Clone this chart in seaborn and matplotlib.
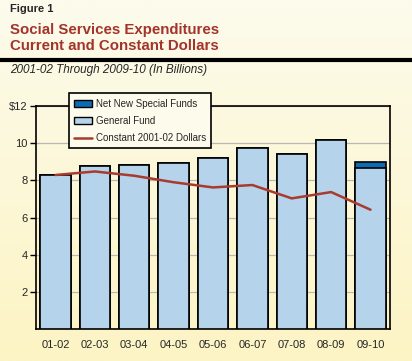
import matplotlib
matplotlib.use("Agg")
import matplotlib.pyplot as plt
from matplotlib.patches import Patch
from matplotlib.lines import Line2D
import numpy as np
import pandas as pd
import seaborn as sns

years = ["01-02", "02-03", "03-04", "04-05", "05-06", "06-07", "07-08", "08-09", "09-10"]
general_fund = [8.29, 8.77, 8.83, 8.93, 9.20, 9.76, 9.40, 10.20, 8.65]
special_funds = [0, 0, 0, 0, 0, 0, 0, 0, 0.34]
constant_dollars = [8.29, 8.48, 8.25, 7.90, 7.62, 7.75, 7.03, 7.37, 6.42]

df = pd.DataFrame({"year": years, "general": general_fund,
                   "total": np.array(general_fund) + np.array(special_funds),
                   "constant": constant_dollars})

sns.set_style("white")
plt.rcParams["font.family"] = ["Liberation Sans", "DejaVu Sans"]

fig = plt.figure(figsize=(4.12, 3.61), dpi=100)

# cream-to-yellow background
bg = fig.add_axes([0, 0, 1, 1], zorder=-10)
grad = np.linspace(0, 1, 256).reshape(-1, 1)
top_c = np.array([253, 251, 236]) / 255
bot_c = np.array([252, 244, 196]) / 255
img = top_c[None, None, :] * (1 - grad[:, :, None]) + bot_c[None, None, :] * grad[:, :, None]
bg.imshow(img, aspect="auto", extent=[0, 1, 0, 1])
bg.axis("off")

fig.text(0.024, 0.988, "Figure 1", fontsize=8, fontweight="bold", va="top")
fig.text(0.024, 0.937, "Social Services Expenditures\nCurrent and Constant Dollars",
         fontsize=10.8, fontweight="bold", color="#a3332b", va="top", linespacing=1.2)
fig.add_artist(Line2D([0, 1], [0.835, 0.835], color="black", lw=3, transform=fig.transFigure))
fig.text(0.024, 0.824, "2001-02 Through 2009-10 (In Billions)", fontsize=8.5, style="italic", va="top")

ax = fig.add_axes([0.087, 0.089, 0.860, 0.617])
ax.patch.set_alpha(0)

sns.barplot(data=df, x="year", y="total", color="#0a6db4", saturation=1, width=0.77,
            edgecolor="black", linewidth=1.2, ax=ax, zorder=3)
sns.barplot(data=df, x="year", y="general", color="#b5d3ea", saturation=1, width=0.77,
            edgecolor="black", linewidth=1.2, ax=ax, zorder=3)
sns.lineplot(x=np.arange(len(years)), y=df["constant"], color="#a83a2e", lw=1.8, ax=ax, zorder=4)

ax.set_xlim(-0.5, len(years) - 0.5)
ax.set_ylim(0, 12)
ax.set_yticks([2, 4, 6, 8, 10, 12])
ax.set_yticklabels(["2", "4", "6", "8", "10", "$12"], fontsize=8)
ax.set_xticks(range(len(years)))
ax.set_xticklabels(years, fontsize=8)
ax.set_xticks(np.arange(-0.5, len(years)), minor=True)
ax.tick_params(axis="x", which="major", length=0, pad=8)
ax.tick_params(axis="x", which="minor", length=4, width=1, color="black", direction="out")
ax.tick_params(axis="y", length=4, width=1, color="black", direction="out", pad=2, left=True)
ax.set_xlabel("")
ax.set_ylabel("")
ax.yaxis.grid(True, color="#b8b8b8", lw=0.9, zorder=0)
ax.set_axisbelow(True)
for s in ax.spines.values():
    s.set_color("black")
    s.set_linewidth(1.2)

handles = [Patch(facecolor="#0a6db4", edgecolor="black", label="Net New Special Funds"),
           Patch(facecolor="#b5d3ea", edgecolor="black", label="General Fund"),
           Line2D([0], [0], color="#a83a2e", lw=1.8, label="Constant 2001-02 Dollars")]
leg = ax.legend(handles=handles, loc="upper left", bbox_to_anchor=(0.08, 1.08),
                fontsize=7, frameon=True, fancybox=False, framealpha=1,
                facecolor="#fdfbeb", edgecolor="black", borderpad=0.55,
                labelspacing=0.75, handlelength=1.8, handletextpad=0.4)
leg.get_frame().set_linewidth(1.2)
leg.set_zorder(10)

fig.savefig("out.png", dpi=100)
